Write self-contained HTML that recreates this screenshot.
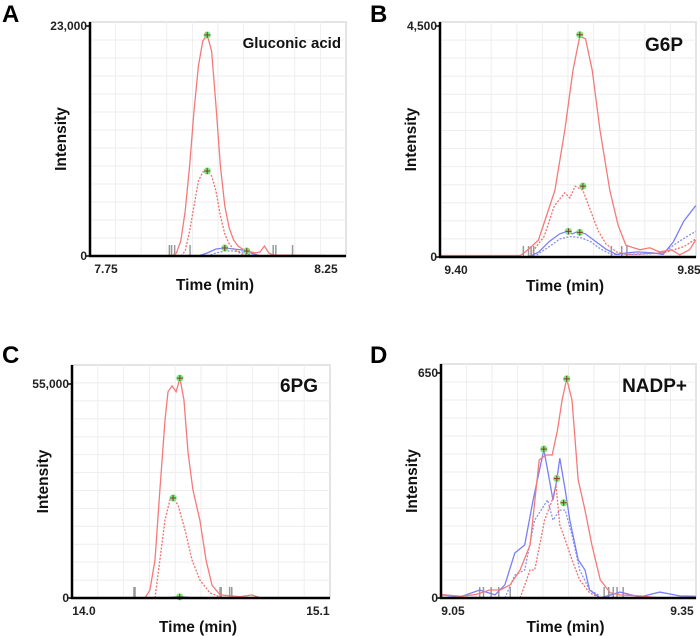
<!DOCTYPE html>
<html><head><meta charset="utf-8"><style>
html,body{margin:0;padding:0;background:#fff;width:700px;height:636px;overflow:hidden}
svg{display:block;font-family:"Liberation Sans",sans-serif}
</style></head><body>
<svg id="fig" width="700" height="636" viewBox="0 0 700 636"></svg>
<script>
// ---- Panel A: Gluconic acid ----
const aRedT=[7.75,7.90,7.91,7.92,7.93,7.94,7.95,7.96,7.97,7.98,7.99,8.00,8.01,8.02,8.03,8.04,8.05,8.06,8.07,8.08,8.09,8.10,8.11,8.12,8.13,8.25];
const aRedI=[0,0,300,1500,4500,9000,14500,19000,21500,22100,20500,15000,9000,5000,2800,1600,1000,700,500,400,300,400,1000,300,100,50];
const aRedDT=[7.92,7.93,7.94,7.95,7.96,7.97,7.98,7.99,8.00,8.01,8.02,8.03,8.04,8.05,8.06,8.07,8.08];
const aRedDI=[0,500,2500,5000,7500,8400,8500,8000,6500,4000,2200,1200,700,400,200,100,0];
const aBlueT=[7.96,7.98,8.00,8.02,8.04,8.06,8.08,8.10];
const aBlueI=[0,300,700,800,700,600,300,0];
const aBlueDT=[7.98,8.00,8.02,8.04,8.06,8.08,8.10];
const aBlueDI=[0,300,500,500,400,100,0];
const aMarkT=[7.98,7.98,8.02,8.07];
const aMarkI=[22100,8500,800,500];
const aGrayT=[7.894,7.899,7.906,7.941,8.13,8.136,8.174];
// ---- Panel B: G6P ----
const bRedT=[9.37,9.50,9.524,9.534,9.549,9.559,9.572,9.591,9.61,9.626,9.639,9.65,9.663,9.678,9.697,9.713,9.728,9.755,9.774,9.793,9.816,9.832,9.851,9.863];
const bRedI=[30,30,30,100,234,330,720,1300,2470,3640,4300,4250,3640,2470,1300,620,230,140,180,100,140,40,140,330];
const bRedDT=[9.54,9.57,9.59,9.61,9.62,9.63,9.645,9.66,9.675,9.69,9.71,9.73,9.80,9.84,9.863];
const bRedDI=[0,400,1000,1250,1150,1380,1300,900,500,250,100,50,80,200,350];
const bBlueT=[9.37,9.54,9.56,9.58,9.60,9.615,9.625,9.635,9.65,9.67,9.69,9.71,9.73,9.75,9.78,9.80,9.82,9.84,9.863];
const bBlueI=[20,0,100,300,450,500,450,500,450,300,150,50,80,100,80,50,300,700,1000];
const bBlueDT=[9.55,9.58,9.60,9.62,9.64,9.66,9.68,9.70,9.75,9.80,9.83,9.863];
const bBlueDI=[0,200,350,400,380,300,150,50,50,80,300,500];
const bMarkT=[9.639,9.645,9.617,9.639];
const bMarkI=[4330,1380,500,480];
const bGrayT=[9.53,9.54,9.545,9.55,9.70,9.72,9.73];
// ---- Panel C: 6PG ----
const cRedT=[13.95,14.287,14.31,14.334,14.357,14.381,14.395,14.414,14.433,14.451,14.47,14.489,14.512,14.545,14.574,14.602,14.64,14.734,14.79,14.83,15.15];
const cRedI=[0,0,2000,9800,27800,45700,53000,54500,53000,56500,51000,37500,27800,20000,9800,3300,800,300,800,0,0];
const cRedDT=[14.334,14.357,14.381,14.404,14.419,14.442,14.475,14.508,14.545,14.592,14.64,14.687];
const cRedDI=[0,9800,20000,25200,25700,23900,17500,9800,4600,1300,250,0];
const cBlueT=[14.38,14.42,14.45,14.48,14.52];
const cBlueI=[0,200,300,200,0];
const cMarkT=[14.451,14.419,14.45];
const cMarkI=[56500,25700,300];
const cGrayT=[14.235,14.24,14.64,14.645,14.685,14.695];
// ---- Panel D: NADP+ ----
const dRedT=[9.035,9.06,9.08,9.098,9.112,9.125,9.138,9.151,9.163,9.172,9.18,9.187,9.193,9.199,9.206,9.214,9.223,9.232,9.243,9.256,9.269,9.295,9.32,9.368];
const dRedI=[10,5,10,23,23,38,81,153,399,413,413,485,572,633,572,341,254,153,52,15,9,6,0,3];
const dRedDT=[9.138,9.151,9.157,9.17,9.18,9.185,9.19,9.197,9.206,9.216,9.229,9.243];
const dRedDI=[0,81,81,225,283,326,211,168,110,52,15,0];
const dBlueT=[9.035,9.059,9.085,9.105,9.118,9.131,9.144,9.155,9.169,9.174,9.181,9.186,9.19,9.197,9.203,9.214,9.223,9.229,9.243,9.269,9.295,9.321,9.347,9.368];
const dBlueI=[9,3,23,9,38,130,153,283,428,370,283,341,404,312,225,110,81,23,0,17,3,17,6,5];
const dBlueDT=[9.118,9.131,9.144,9.157,9.174,9.181,9.19,9.197,9.206,9.216,9.229,9.243];
const dBlueDI=[0,66,81,225,283,225,254,254,182,81,23,6];
const dMarkT=[9.169,9.199,9.186,9.195];
const dMarkI=[430,633,345,275];
const dGrayT=[9.085,9.09,9.1,9.11,9.125,9.248,9.254,9.26,9.265,9.273];

const NS='http://www.w3.org/2000/svg';
const svg=document.getElementById('fig');
function mk(tag,attrs,parent){const e=document.createElementNS(NS,tag);for(const k in attrs)e.setAttribute(k,attrs[k]);(parent||svg).appendChild(e);return e;}

function panel(p){
  const g=mk('g',{});
  
  
  const sx=t=>p.L+(t-p.t0)/(p.t1-p.t0)*(p.R-p.L);
  const sy=v=>p.B-v/p.yMax*(p.B-p.T);
  const bg=mk('rect',{x:p.L,y:p.boxTop,width:p.R-p.L,height:p.B-p.boxTop,fill:'#fff',stroke:'#e4e4e4','stroke-width':2},g);
  
  
  for(let i=1;i<10;i++){const x=p.L+i*(p.R-p.L)/10;mk('line',{x1:x,x2:x,y1:p.boxTop,y2:p.B,stroke:'#eeeeee','stroke-width':1},g);}
  for(let i=1;i<13;i++){const y=p.B-i*(p.B-p.boxTop)/13;mk('line',{x1:p.L,x2:p.R,y1:y,y2:y,stroke:'#eeeeee','stroke-width':1},g);}
  function line(ts,vs,color,dash,name){
    const d=ts.map((t,i)=>(i?'L':'M')+sx(t).toFixed(1)+','+sy(vs[i]).toFixed(1)).join('');
    const e=mk('path',{d:d,fill:'none',stroke:color,'stroke-width':1.3},g);
    if(dash)e.setAttribute('stroke-dasharray','2,1.5');
    
    
  }
  p.gray.forEach(t=>{const e=mk('line',{x1:sx(t),x2:sx(t),y1:p.B,y2:p.B-11,stroke:'#999','stroke-width':1.5},g);
    
    });
  line(p.bdT,p.bdI,'#8a8ff0',true,'blue-dashed-trace');
  line(p.bT,p.bI,'#7a7ff5',false,'blue-solid-trace');
  line(p.rdT,p.rdI,'#f07070',true,'red-dashed-trace');
  line(p.rT,p.rI,'#f47a7a',false,'red-solid-trace');
  p.mT.forEach((t,i)=>{const x=sx(t),y=sy(p.mI[i]);
    const c=mk('circle',{cx:x,cy:y,r:3.6,fill:'#7ee87e'},g);
    
    
    mk('path',{d:`M${x-3},${y}h6M${x},${y-3}v6`,stroke:'#833','stroke-width':1},g);});
  mk('line',{x1:p.L,x2:p.L,y1:p.boxTop,y2:p.B+1,stroke:'#000','stroke-width':2.5},g);
  mk('line',{x1:p.L-1,x2:p.R,y1:p.B,y2:p.B,stroke:'#000','stroke-width':2.5},g);
  [[0,'0'],[p.yTop,p.yTopLabel]].forEach(([v,l])=>{const y=sy(v);
    mk('line',{x1:p.L-4,x2:p.L,y1:y,y2:y,stroke:'#000','stroke-width':1.5},g);
    const t=mk('text',{x:p.L-3,y:y+4,'text-anchor':'end','font-size':12,'font-weight':'bold',fill:'#222'},g);t.textContent=l;
    
    });
  p.xTicks.forEach((v,i)=>{const t=mk('text',{x:sx(v),y:p.B+17,'text-anchor':'middle','font-size':12,'font-weight':'bold',fill:'#222'},g);t.textContent=p.xLabels[i];
    
    });
  const xt=mk('text',{x:(p.L+p.R)/2-3,y:p.B+34,'text-anchor':'middle','font-size':15.5,'font-weight':'bold',fill:'#111'},g);xt.textContent='Time (min)';
  
  
  const yc=(p.boxTop+p.B)/2;
  const yt=mk('text',{x:p.L-24,y:yc,'text-anchor':'middle','font-size':15.5,'font-weight':'bold',fill:'#111',transform:`rotate(-90 ${p.L-24} ${yc})`},g);yt.textContent='Intensity';
  
  
  const tt=mk('text',{x:p.titleX,y:p.titleY,'text-anchor':'end','font-size':p.titleSize,'font-weight':'bold',fill:'#111'},g);tt.textContent=p.title;
  
  
  const lt=mk('text',{x:p.letterX,y:p.letterY,'font-size':24,'font-weight':'bold',fill:'#000'},g);lt.textContent=p.letter;
  
  
}

panel({id:'panel-a',L:90,R:346,T:26,B:256,boxTop:22,t0:7.7136,t1:8.2955,yMax:23000,yTop:23000,yTopLabel:'23,000',
  xTicks:[7.75,8.25],xLabels:['7.75','8.25'],rT:aRedT,rI:aRedI,rdT:aRedDT,rdI:aRedDI,bT:aBlueT,bI:aBlueI,bdT:aBlueDT,bdI:aBlueDI,
  mT:aMarkT,mI:aMarkI,gray:aGrayT,title:'Gluconic acid',titleX:341,titleY:48,titleSize:15,letter:'A',letterX:2,letterY:22});
panel({id:'panel-b',L:440,R:696,T:26,B:257,boxTop:22,t0:9.369,t1:9.8635,yMax:4500,yTop:4500,yTopLabel:'4,500',
  xTicks:[9.40,9.85],xLabels:['9.40','9.85'],rT:bRedT,rI:bRedI,rdT:bRedDT,rdI:bRedDI,bT:bBlueT,bI:bBlueI,bdT:bBlueDT,bdI:bBlueDI,
  mT:bMarkT,mI:bMarkI,gray:bGrayT,title:'G6P',titleX:683,titleY:51,titleSize:19,letter:'B',letterX:370,letterY:22});
panel({id:'panel-c',L:72,R:330,T:384,B:598,boxTop:365,t0:13.9436,t1:15.157,yMax:55000,yTop:55000,yTopLabel:'55,000',
  xTicks:[14.0,15.1],xLabels:['14.0','15.1'],rT:cRedT,rI:cRedI,rdT:cRedDT,rdI:cRedDI,bT:cBlueT,bI:cBlueI,bdT:cBlueT,bdI:cBlueI,
  mT:cMarkT,mI:cMarkI,gray:cGrayT,title:'6PG',titleX:318,titleY:392,titleSize:19,letter:'C',letterX:2,letterY:363});
panel({id:'panel-d',L:441,R:696,T:373,B:598,boxTop:364,t0:9.0343,t1:9.3684,yMax:650,yTop:650,yTopLabel:'650',
  xTicks:[9.05,9.35],xLabels:['9.05','9.35'],rT:dRedT,rI:dRedI,rdT:dRedDT,rdI:dRedDI,bT:dBlueT,bI:dBlueI,bdT:dBlueDT,bdI:dBlueDI,
  mT:dMarkT,mI:dMarkI,gray:dGrayT,title:'NADP+',titleX:687,titleY:392,titleSize:19,letter:'D',letterX:370,letterY:363});
</script>
</body></html>
